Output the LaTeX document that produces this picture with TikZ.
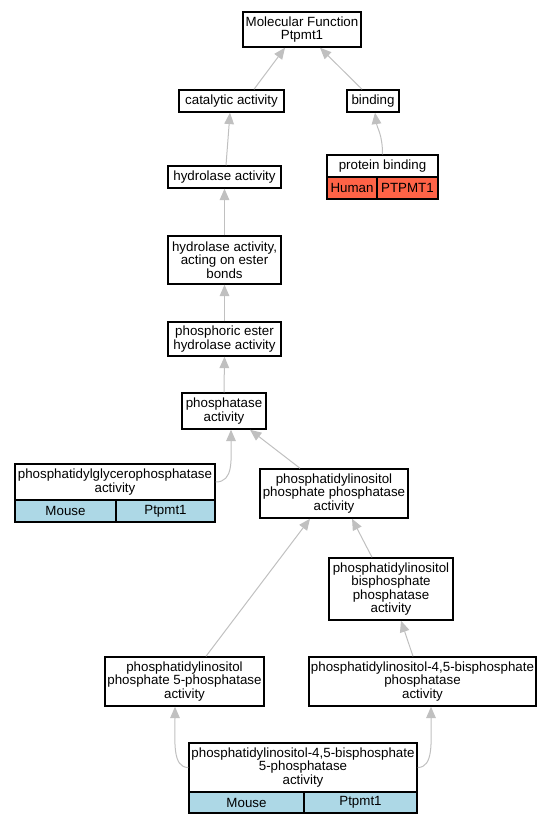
\documentclass[tikz,border=0pt]{standalone}
\usepackage{fontspec}
\setmainfont{Liberation Sans}
\usetikzlibrary{arrows.meta, calc}
\definecolor{edgegray}{RGB}{192,192,192}
\definecolor{humancol}{RGB}{255,99,71}
\definecolor{mousecol}{RGB}{173,216,230}

\begin{document}
\begin{tikzpicture}[x=0.75pt, y=-0.75pt,
    term/.style 2 args={draw, line width=1.1pt, fill=white, align=center, inner sep=0pt,
        minimum width=#1*0.75pt, minimum height=#2*0.75pt, font=\fontsize{10}{10}\selectfont},
    human/.style 2 args={term={#1}{#2}, fill=humancol},
    mouse/.style 2 args={term={#1}{#2}, fill=mousecol},
    isa/.style={draw=edgegray, line width=0.75pt, -{Triangle[length=8.5pt,width=7.2pt]}}]
        \useasboundingbox (0,0) rectangle (552,824);

        %nodi in alto
        \node[term={118}{35}] (mf) at (302,29.5) {Molecular Function\\Ptpmt1};
        \node[term={105}{22}] (cat) at (231.5,101) {catalytic activity};
        \node[term={52}{22}] (bind) at (373,101) {binding};
        \node[term={111}{22}] (prot) at (382.5,166) {protein binding};
        \node[human={50}{22}] (protsp) at (352,188) {Human};
        \node[human={61}{22}] (protgn) at (407.5,188) {PTPMT1};

        %catena delle idrolasi
        \node[term={113}{22}] (hyd) at (224.5,177) {hydrolase activity};
        \node[term={113}{48}] (ester) at (224.5,260) {hydrolase activity,\\acting on ester\\bonds};
        \node[term={113}{34}] (phest) at (224.5,339) {phosphoric ester\\hydrolase activity};
        \node[term={84}{36}] (phos) at (224,411) {phosphatase\\activity};

        %fosfatasi
        \node[term={200}{36}] (pgp) at (115,482) {phosphatidylglycerophosphatase\\activity};
        \node[mouse={101}{22}] (pgpsp) at (65.5,511) {Mouse};
        \node[mouse={99}{22}] (pgpgn) at (165.5,511) {Ptpmt1};
        \node[term={148}{49}] (pipp) at (334,493.5) {phosphatidylinositol\\phosphate phosphatase\\activity};
        \node[term={124}{62}] (pibp) at (391,589) {phosphatidylinositol\\bisphosphate\\phosphatase\\activity};
        \node[term={159}{49}] (pi5) at (184.5,681.5) {phosphatidylinositol\\phosphate 5-phosphatase\\activity};
        \node[term={227}{49}] (pi45) at (422.5,681.5) {phosphatidylinositol-4,5-bisphosphate\\phosphatase\\activity};
        \node[term={228}{49}] (bot) at (303,767.5) {phosphatidylinositol-4,5-bisphosphate\\5-phosphatase\\activity};
        \node[mouse={115}{21}] (botsp) at (246.5,802.5) {Mouse};
        \node[mouse={113}{21}] (botgn) at (360.5,802.5) {Ptpmt1};

        %frecce is_a
        \draw[isa] ($(cat.north)+(22.5,0)$) -- ($(mf.south)+(-17,0)$);
        \draw[isa] ($(bind.north)+(-11,0)$) -- ($(mf.south)+(18,0)$);
        \draw[isa] (prot.north) .. controls +(0,-20) and +(2,15) .. ($(bind.south)+(2,0)$);
        \draw[isa] ($(hyd.north)+(1.5,0)$) -- ($(cat.south)+(-1.5,0)$);
        \draw[isa] (ester.north) -- (hyd.south);
        \draw[isa] (phest.north) -- (ester.south);
        \draw[isa] (phos.north) -- (phest.south);
        \draw[isa] (pgp.east) .. controls +(18,0) and +(0,30) .. ($(phos.south)+(7,0)$);
        \draw[isa] ($(pipp.north)+(-34,0)$) -- ($(phos.south)+(26,0)$);
        \draw[isa] ($(pibp.north)+(-19,0)$) -- ($(pipp.south)+(18,0)$);
        \draw[isa] ($(pi5.north)+(21.5,0)$) -- ($(pipp.south)+(-24,0)$);
        \draw[isa] ($(pi45.north)+(-9.5,0)$) -- ($(pibp.south)+(10,0)$);
        \draw[isa] (bot.west) .. controls +(-16,0) and +(0,35) .. ($(pi5.south)+(-9.5,0)$);
        \draw[isa] (bot.east) .. controls +(16,0) and +(0,35) .. ($(pi45.south)+(8.5,0)$);
\end{tikzpicture}
\end{document}
